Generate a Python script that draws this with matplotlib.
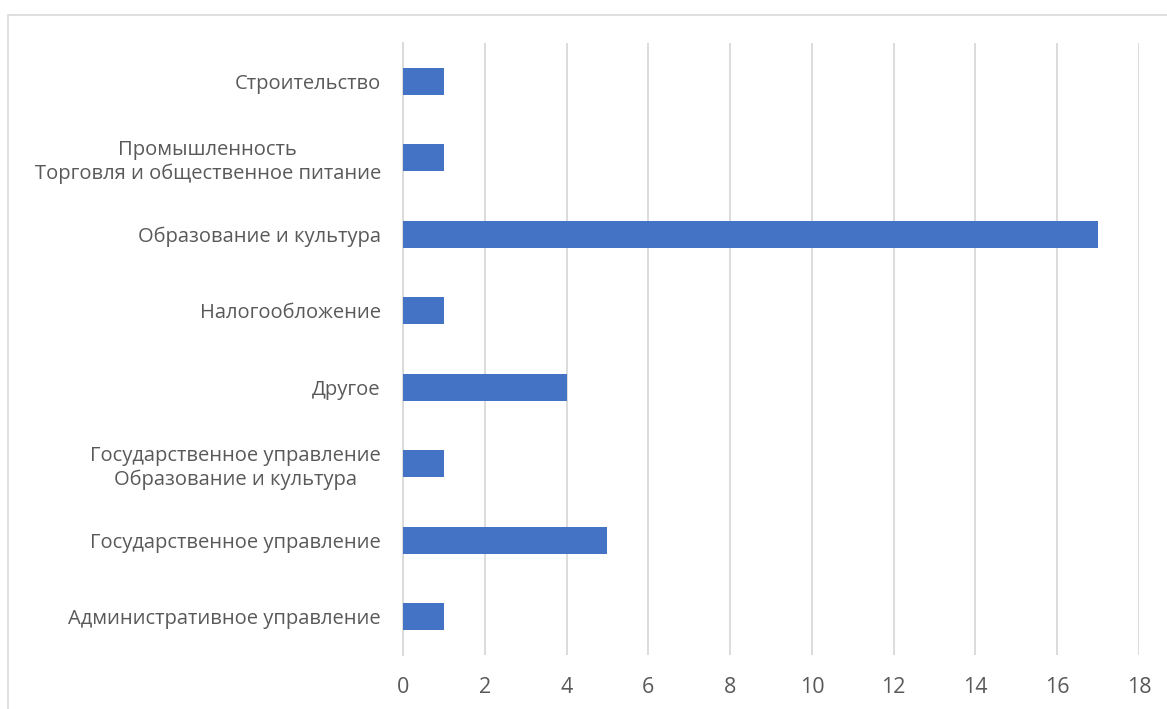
import matplotlib
matplotlib.use("Agg")
import matplotlib.pyplot as plt
from matplotlib.patches import Rectangle

# categories listed bottom to top
categories = [
    "Административное управление",
    "Государственное управление",
    "Государственное управление\nОбразование и культура",
    "Другое",
    "Налогообложение",
    "Образование и культура",
    "Промышленность\nТорговля и общественное питание",
    "Строительство",
]
values = [1, 5, 1, 4, 1, 17, 1, 1]
xticks = list(range(0, 20, 2))

BAR = "#4472C4"
TXT = "#595959"
GRID = "#D9D9D9"

plt.rcParams["font.family"] = ["Open Sans", "DejaVu Sans"]

W, H = 1167, 709
fig = plt.figure(figsize=(W / 100, H / 100), dpi=100)
ax = fig.add_axes([403 / W, 1 - 655 / H, (1139 - 403) / W, (655 - 43) / H])

# chart border (runs off the right/bottom edge like the original)
fig.patches.append(Rectangle((8 / W, -0.05), 1.1, 1 - 15 / H + 0.05,
                             transform=fig.transFigure, fill=False,
                             edgecolor=GRID, linewidth=1.2))

ypos = range(len(categories))
ax.barh(ypos, values, height=0.35, color=BAR, zorder=3)

ax.set_xlim(0, 18)
ax.set_ylim(-0.5, len(categories) - 0.5)
ax.set_xticks(xticks)
ax.set_xticklabels([str(t) for t in xticks])
ax.set_yticks(list(ypos))
ax.set_yticklabels(categories)
for lbl in ax.get_yticklabels():
    lbl.set_multialignment("center")

ax.tick_params(axis="both", length=0, labelsize=14.5, colors=TXT)
ax.tick_params(axis="x", labelsize=15.5)
ax.tick_params(axis="y", pad=16)
ax.tick_params(axis="x", pad=16)
ax.grid(axis="x", color=GRID, linewidth=1.3, zorder=0)
for s in ("top", "right", "bottom"):
    ax.spines[s].set_visible(False)
ax.spines["left"].set_color(GRID)
ax.spines["left"].set_linewidth(1.3)

fig.savefig("out.png", dpi=100)
